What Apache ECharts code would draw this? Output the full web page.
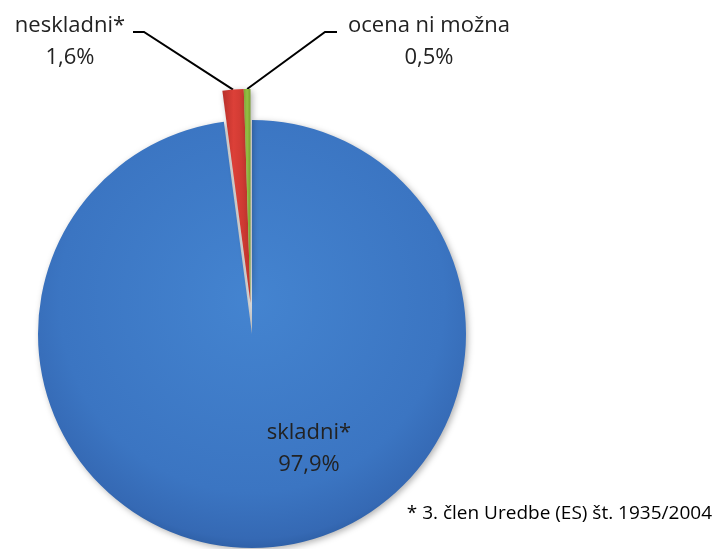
<!DOCTYPE html>
<html>
<head>
<meta charset="utf-8">
<script src="https://cdn.jsdelivr.net/npm/echarts@6/dist/echarts.min.js"></script>
<style>html,body{margin:0;padding:0;background:#fff}#c{width:720px;height:549px}</style>
</head>
<body>
<div id="c"></div>
<script>
var categories = ['skladni*', 'neskladni*', 'ocena ni možna'];
var values = [97.9, 1.6, 0.5];
var exploded = [false, true, true];
var footnote = '* 3. člen Uredbe (ES) št. 1935/2004';

var colors = [
  {type:'radial', x:0.5, y:0.42, r:0.6, colorStops:[{offset:0,color:'#4484d0'},{offset:0.75,color:'#3b75c2'},{offset:0.93,color:'#3569b4'},{offset:1,color:'#2a5a9e'}]},
  {type:'linear', x:0, y:0, x2:1, y2:0, colorStops:[{offset:0,color:'#b8302a'},{offset:0.4,color:'#dc4038'},{offset:1,color:'#c4352e'}]},
  {type:'linear', x:0, y:0, x2:1, y2:0, colorStops:[{offset:0,color:'#7ea634'},{offset:0.5,color:'#93bf44'},{offset:1,color:'#7aa030'}]}
];

var labelPos = [
  {x:309, y:417},
  {x:70, y:10, line:[[144,32],[133,32]]},
  {x:429, y:10, line:[[325,32],[337,32]]}
];

function fmt(p){ return p.name + '\n' + p.value.toFixed(1).replace('.', ',') + '%'; }

// series 1: the slices that stay in place
var dataMain = categories.map(function(n,i){
  return {
    name:n, value:values[i],
    itemStyle: exploded[i] ? {color:'rgba(0,0,0,0)', borderWidth:0, shadowBlur:0} : {color:colors[i]},
    label:{show:!exploded[i]},
    labelLine:{show:false}
  };
});
// series 2: the exploded slices, same angles, centre pulled out
var dataExpl = categories.map(function(n,i){
  return {
    name:n, value:values[i],
    itemStyle: exploded[i] ? {color:colors[i]} : {color:'rgba(0,0,0,0)', borderWidth:0, shadowBlur:0},
    label:{show:exploded[i]},
    labelLine:{show:exploded[i]}
  };
});

var common = {
  type:'pie',
  radius:[0,214],
  startAngle:90,
  clockwise:true,
  avoidLabelOverlap:false,
  silent:true,
  emphasis:{disabled:true},
  itemStyle:{borderWidth:0, shadowBlur:6, shadowColor:'rgba(0,0,0,0.3)', shadowOffsetX:2, shadowOffsetY:2},
  label:{
    position:'outside',
    fontFamily:'Open Sans',
    fontSize:22,
    lineHeight:32,
    color:'#222',
    align:'center',
    formatter:fmt
  },
  labelLine:{lineStyle:{color:'#000', width:2}, length:10, length2:10},
  labelLayout:function(p){
    var lp = labelPos[p.dataIndex];
    var r = {x:lp.x, y:lp.y, align:'center', verticalAlign:'top'};
    if (lp.line && p.labelLinePoints) {
      r.labelLinePoints = [p.labelLinePoints[0], lp.line[0], lp.line[1]];
    }
    return r;
  }
};

var chart = echarts.init(document.getElementById('c'), null, {renderer:'canvas'});
chart.setOption({
  animation:false,
  title:{text:footnote, right:3, top:499, textStyle:{fontFamily:'Open Sans', fontSize:19, fontWeight:'normal', color:'#000'}},
  series:[
    Object.assign({}, common, {center:[252,334], data:dataMain}),
    Object.assign({}, common, {center:[250.5,303], data:dataExpl})
  ]
});
</script>
</body>
</html>
